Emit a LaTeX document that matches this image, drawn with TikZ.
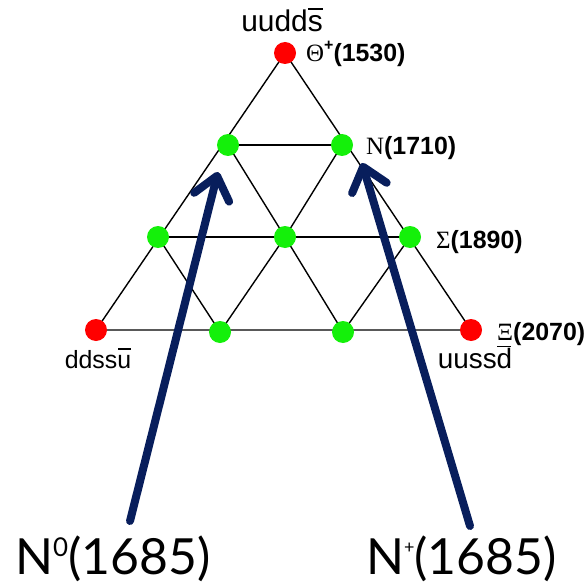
\documentclass[tikz,border=0pt]{standalone}
\usepackage{fontspec}
\setmainfont{Liberation Sans}
\newfontfamily\serifgreek{Liberation Serif}
\newfontfamily\bigfont{Lato}
\usetikzlibrary{arrows.meta}
\definecolor{navy}{RGB}{8,30,92}
\definecolor{pentared}{RGB}{255,0,0}
\definecolor{pentagreen}{RGB}{20,240,10}
% antiquark: letter with a bar just above ascender height
\newcommand\antiquark[1]{\ooalign{#1\cr\hidewidth\raisebox{0.74em}{\rule{0.5em}{0.06em}}\hidewidth\cr}}
\tikzset{
  redstate/.style={circle,fill=pentared,minimum size=22bp,inner sep=0pt},
  greenstate/.style={circle,fill=pentagreen,minimum size=22bp,inner sep=0pt},
  gridline/.style={line width=1.4bp,black},
  mass/.style={anchor=base west,inner sep=0pt,font=\fontsize{25}{27}\selectfont\bfseries},
  quark/.style={inner sep=0pt,anchor=base},
  biglabel/.style={anchor=base west,inner sep=0pt,font=\bigfont\fontsize{50}{54}\selectfont},
  pointer/.style={navy,line width=8bp,line cap=round,
    -{Straight Barb[length=22bp,width=36bp,line cap=round,line join=round]}}
}
\begin{document}
\begin{tikzpicture}[x=1bp,y=-1bp]
\useasboundingbox (0,0) rectangle (588,587);
% antidecuplet states
\coordinate (T) at (285,53);
\coordinate (A1) at (228,145);
\coordinate (A2) at (342,145);
\coordinate (B1) at (158,237);
\coordinate (B2) at (285,237);
\coordinate (B3) at (410,237);
\coordinate (C1) at (96,330);
\coordinate (C2) at (220,332);
\coordinate (C3) at (343,332);
\coordinate (C4) at (471,330);
% triangular grid
\draw[gridline] (T) -- (C1) -- (C4) -- cycle;
\draw[gridline] (A1) -- (A2);
\draw[gridline] (B1) -- (B3);
\draw[gridline] (A1) -- (B2) -- (C3);
\draw[gridline] (A2) -- (B2) -- (C2);
\draw[gridline] (B1) -- (C2);
\draw[gridline] (B3) -- (C3);
% states
\node[redstate] (t) at (T) {};
\node[greenstate] (a1) at (A1) {};
\node[greenstate] (a2) at (A2) {};
\node[greenstate] (b1) at (B1) {};
\node[greenstate] (b2) at (B2) {};
\node[greenstate] (b3) at (B3) {};
\node[redstate] (c1) at (C1) {};
\node[greenstate] (c2) at (C2) {};
\node[greenstate] (c3) at (C3) {};
\node[redstate] (c4) at (C4) {};
% quark content
\node[quark,font=\fontsize{30}{32}\selectfont] (qt) at (282,32) {uudd\antiquark{s}};
\node[quark,font=\fontsize{25}{27}\selectfont] (qc1) at (98,368) {ddss\antiquark{u}};
\node[quark,font=\fontsize{28}{30}\selectfont] (qc4) at (475,368) {uuss\antiquark{d}};
% masses
\node[mass] (mt) at (306,62) {{\mdseries\serifgreek Θ}\raisebox{0.45em}{\fontsize{16}{17}\selectfont +}(1530)};
\node[mass] (ma2) at (366,155) {{\mdseries\serifgreek N}(1710)};
\node[mass] (mb3) at (436,248) {{\mdseries\serifgreek Σ}(1890)};
\node[mass] (mc4) at (497,340) {{\mdseries\serifgreek Ξ}(2070)};
% pentaquark candidates
\node[biglabel] (n0) at (15,574) {N\raisebox{0.36em}{\fontsize{26}{28}\selectfont 0}(1685)};
\node[biglabel] (np) at (366,574) {N\raisebox{0.42em}{\fontsize{18}{20}\selectfont +}(1685)};
\coordinate (s0) at (130,521);
\coordinate (sp) at (470,526);
\coordinate (e0) at (218,172);
\coordinate (ep) at (362,163);
\draw[pointer] (s0) -- (e0);
\draw[pointer] (sp) -- (ep);
\end{tikzpicture}
\end{document}
